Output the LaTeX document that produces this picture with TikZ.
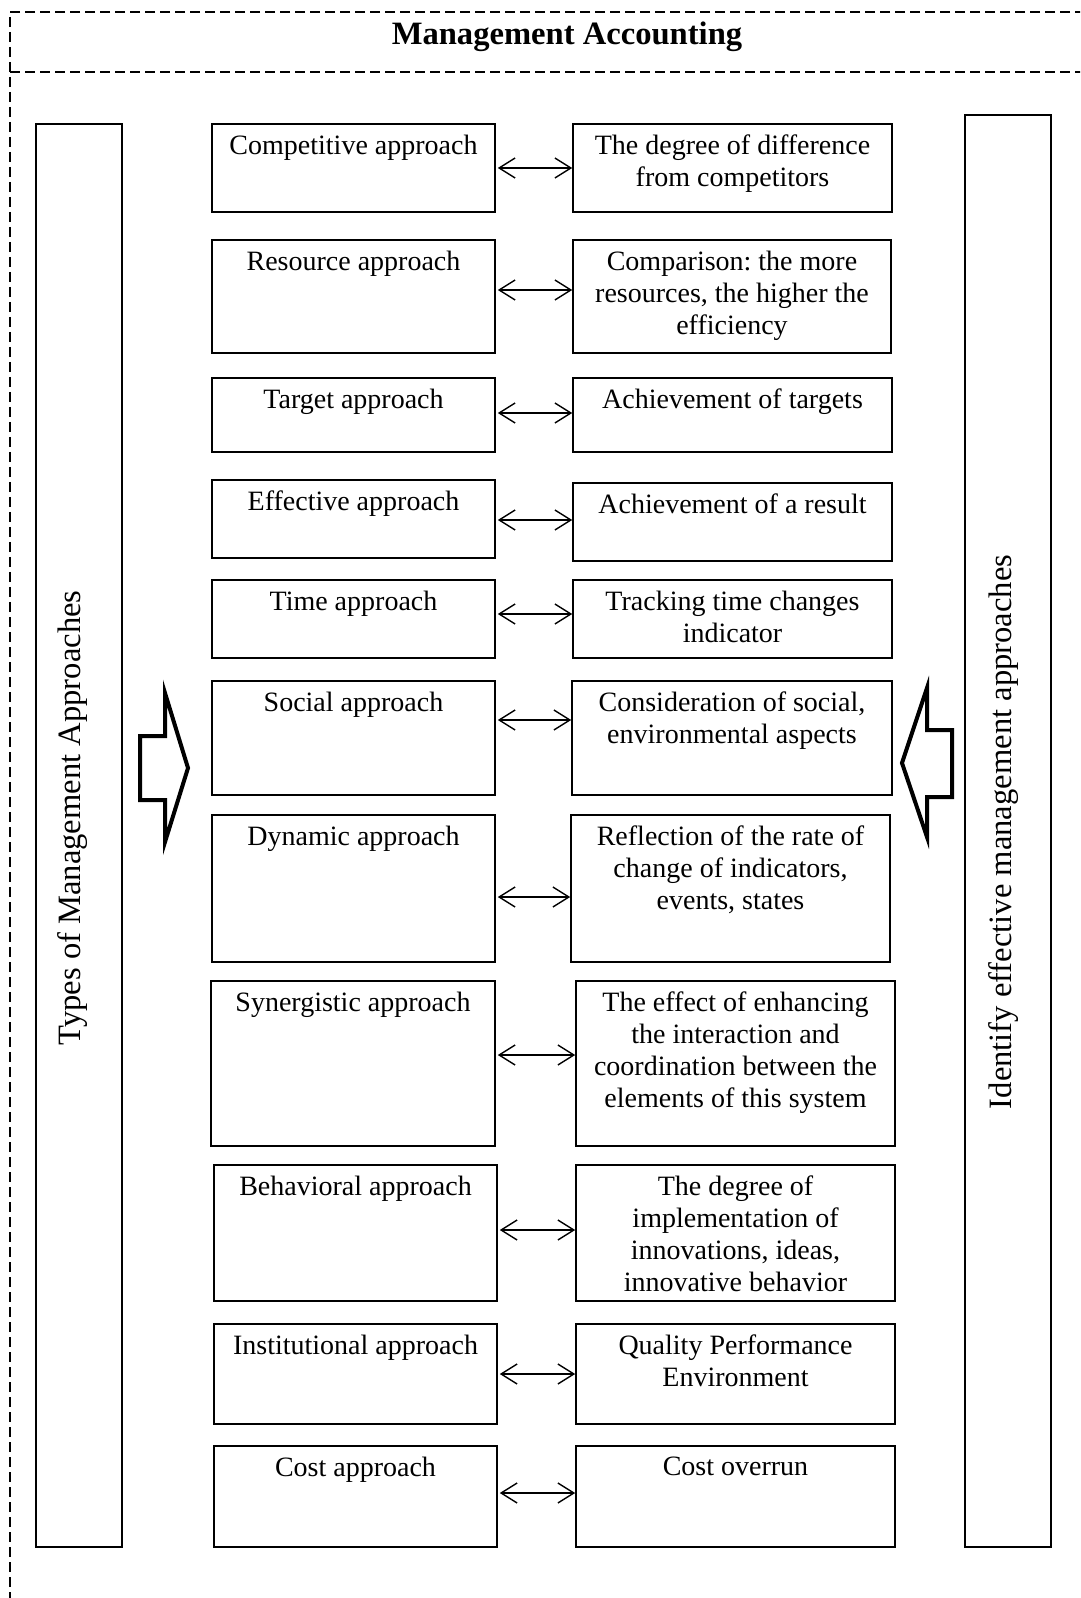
\documentclass[tikz,border=0pt]{standalone}
\usepackage{fontspec}
\setmainfont{Liberation Serif}
\usetikzlibrary{arrows.meta,fit}
\frenchspacing
\newcommand\bx[6]{%
  \node[box, fit={(#2,#3) (#4,#5)}] (#1) {};
  \node[txt] (#1t) at ([yshift=-5.5pt]#1.north) {#6};}
\begin{document}
\begin{tikzpicture}[x=0.5pt,y=-0.5pt,
  box/.style={draw, line width=0.8pt, inner sep=0pt},
  txt/.style={anchor=north, align=center, inner sep=0pt, font=\fontsize{14}{16}\selectfont},
  dbl/.style={{Straight Barb[length=8pt,width=10pt]}-{Straight Barb[length=8pt,width=10pt]}, line width=0.7pt},
  hollow/.style={draw, line width=2pt, line join=miter},
  frame/.style={draw, line width=0.6pt, dash pattern=on 5pt off 2.5pt}]
\useasboundingbox (0,0) rectangle (1080,1598);
\clip (0,0) rectangle (1080,1598);
% frame
\draw[frame] (1130,12) -- (10,12) -- (10,1640);
\draw[frame, line width=0.8pt] (10,72) -- (1130,72);
\node[font=\fontsize{16.3}{18}\selectfont\bfseries] (title) at (567,37) {Management Accounting};
% side boxes
\node[box, fit={(36,124) (122,1547)}] (left) {};
\node[box, fit={(965,115) (1051,1547)}] (right) {};
\node[rotate=90, font=\fontsize{16.3}{18}\selectfont] (leftt) at (73,818) {Types of Management Approaches};
\node[rotate=90, font=\fontsize{16.3}{18}\selectfont] (rightt) at (1004,832) {Identify effective management approaches};
% hollow arrows
\draw[hollow] (140,736) -- (165,736) -- (165,693) -- (188,768) -- (165,842) -- (165,800) -- (140,800) -- cycle;
\draw[hollow] (952,730) -- (927,730) -- (927,688) -- (902,763) -- (927,837) -- (927,797) -- (952,797) -- cycle;
% rows
\bx{l1}{212}{124}{495}{212}{Competitive approach}
\bx{r1}{573}{124}{892}{212}{The degree of difference\\from competitors}
\bx{l2}{212}{240}{495}{353}{Resource approach}
\bx{r2}{573}{240}{891}{353}{Comparison: the more\\resources, the higher the\\efficiency}
\bx{l3}{212}{378}{495}{452}{Target approach}
\bx{r3}{573}{378}{892}{452}{Achievement of targets}
\bx{l4}{212}{480}{495}{558}{Effective approach}
\bx{r4}{573}{483}{892}{561}{Achievement of a result}
\bx{l5}{212}{580}{495}{658}{Time approach}
\bx{r5}{573}{580}{892}{658}{Tracking time changes\\indicator}
\bx{l6}{212}{681}{495}{795}{Social approach}
\bx{r6}{572}{681}{892}{795}{Consideration of social,\\environmental aspects}
\bx{l7}{212}{815}{495}{962}{Dynamic approach}
\bx{r7}{571}{815}{890}{962}{Reflection of the rate of\\change of indicators,\\events, states}
\bx{l8}{211}{981}{495}{1146}{Synergistic approach}
\bx{r8}{576}{981}{895}{1146}{The effect of enhancing\\the interaction and\\coordination between the\\elements of this system}
\bx{l9}{214}{1165}{497}{1301}{Behavioral approach}
\bx{r9}{576}{1165}{895}{1301}{The degree of\\implementation of\\innovations, ideas,\\innovative behavior}
\bx{l10}{214}{1324}{497}{1424}{Institutional approach}
\bx{r10}{576}{1324}{895}{1424}{Quality Performance\\Environment}
\bx{l11}{214}{1446}{497}{1547}{Cost approach}
\bx{r11}{576}{1446}{895}{1547}{Cost overrun}
% arrows
\foreach \i/\y in {1/168,2/290,3/413,4/520,5/614,6/720,7/897,8/1055,9/1230,10/1374,11/1493}{
  \coordinate (a\i) at (0,\y);
  \draw[dbl] ([xshift=1pt]l\i.east |- a\i) -- (r\i.west |- a\i);
}
\end{tikzpicture}
\end{document}
